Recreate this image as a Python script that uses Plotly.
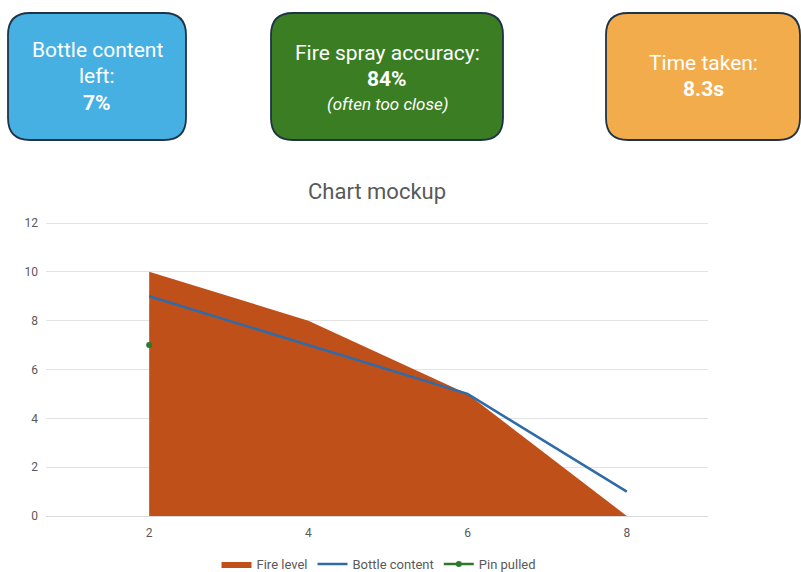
import plotly.graph_objects as go

# Chart data
steps = [2, 4, 6, 8]
fire_level = [10, 8, 5, 0]
bottle_content = [9, 7, 5, 1]
pin_x = [2]
pin_y = [7]

# KPI cards
card_lines = [
    ["Bottle content", "left:", "<b>7%</b>"],
    ["Fire spray accuracy:", "<b>84%</b>", "<i>(often too close)</i>"],
    ["Time taken:", "<b>8.3s</b>"],
]
card_colors = ["#47B0E2", "#3A7D23", "#F3AC4B"]

W, H = 801, 572


def px(x):
    return x / W


def py(y):
    return 1 - y / H


def rounded_box(x0, y0, x1, y1, r):
    pts = []
    pts.append(f"M {px(x0 + r)},{py(y0)}")
    pts.append(f"L {px(x1 - r)},{py(y0)}")
    pts.append(f"Q {px(x1)},{py(y0)} {px(x1)},{py(y0 + r)}")
    pts.append(f"L {px(x1)},{py(y1 - r)}")
    pts.append(f"Q {px(x1)},{py(y1)} {px(x1 - r)},{py(y1)}")
    pts.append(f"L {px(x0 + r)},{py(y1)}")
    pts.append(f"Q {px(x0)},{py(y1)} {px(x0)},{py(y1 - r)}")
    pts.append(f"L {px(x0)},{py(y0 + r)}")
    pts.append(f"Q {px(x0)},{py(y0)} {px(x0 + r)},{py(y0)}")
    pts.append("Z")
    return " ".join(pts)


fig = go.Figure()

fig.add_trace(go.Scatter(
    x=steps, y=fire_level, name="Fire level", mode="lines",
    fill="tozeroy", fillcolor="#C0501A", line=dict(width=0, color="#C0501A"),
))
fig.add_trace(go.Scatter(
    x=steps, y=bottle_content, name="Bottle content", mode="lines",
    line=dict(width=2.5, color="#2F6BA8"),
))
fig.add_trace(go.Scatter(
    x=pin_x, y=pin_y, name="Pin pulled", mode="lines+markers",
    line=dict(width=2.5, color="#2A7A2A"), marker=dict(size=6, color="#2A7A2A"),
))

boxes = [(8, 13, 186, 140), (271, 13, 503, 140), (606, 13, 800, 140)]
shapes = []
for (x0, y0, x1, y1), c in zip(boxes, card_colors):
    shapes.append(dict(
        type="path", xref="paper", yref="paper",
        path=rounded_box(x0, y0, x1, y1, 22),
        fillcolor=c, line=dict(color="#1F3346", width=1.8), layer="above",
    ))

annotations = []
line_y = [[50, 76, 103], [53, 79, 104], [63, 89]]
line_sizes = [[21, 21, 21], [21, 21, 17], [21, 21]]
for (x0, y0, x1, y1), lines, ys, sizes in zip(boxes, card_lines, line_y, line_sizes):
    for t, yy, s in zip(lines, ys, sizes):
        annotations.append(dict(
            text=t, x=px((x0 + x1) / 2), y=py(yy), xref="paper", yref="paper",
            showarrow=False, xanchor="center", yanchor="middle",
            font=dict(size=s, color="white", family="Roboto, sans-serif"),
        ))

annotations.append(dict(
    text="Chart mockup", x=px(377), y=py(192), xref="paper", yref="paper",
    showarrow=False, xanchor="center", yanchor="middle",
    font=dict(size=22, color="#595959", family="Roboto, sans-serif"),
))

# y scale: 0 at 516 px, 12 at 223 px; range padded so the 12 gridline is drawn
unit = (516 - 223) / 12
y_top = 12.5

fig.update_layout(
    width=W, height=H,
    margin=dict(l=0, r=0, t=0, b=0, autoexpand=False),
    paper_bgcolor="white", plot_bgcolor="white",
    shapes=shapes, annotations=annotations,
    font=dict(family="Roboto, sans-serif", color="#595959", size=12),
    showlegend=True,
    legend=dict(
        orientation="h", x=px(379), y=py(564), xanchor="center", yanchor="middle",
        font=dict(size=13, color="#595959"), itemwidth=30, tracegroupgap=0,
    ),
    xaxis=dict(
        domain=[px(46), px(708)], range=[0.704, 9.02],
        tickvals=steps, ticktext=[str(s) for s in steps],
        showgrid=False, zeroline=False, showline=False,
        ticks="", ticklabelstandoff=8,
        tickfont=dict(size=12, color="#595959"),
    ),
    yaxis=dict(
        domain=[1 - 516 / H, 1 - (516 - y_top * unit) / H], range=[0, y_top],
        tickvals=[0, 2, 4, 6, 8, 10, 12],
        showgrid=True, gridcolor="#E3E3E3", gridwidth=1,
        zeroline=True, zerolinecolor="#D9D9D9", zerolinewidth=1,
        showline=False, ticks="", ticklabelstandoff=7,
        tickfont=dict(size=12, color="#595959"),
    ),
)

fig.write_html("out.html")
